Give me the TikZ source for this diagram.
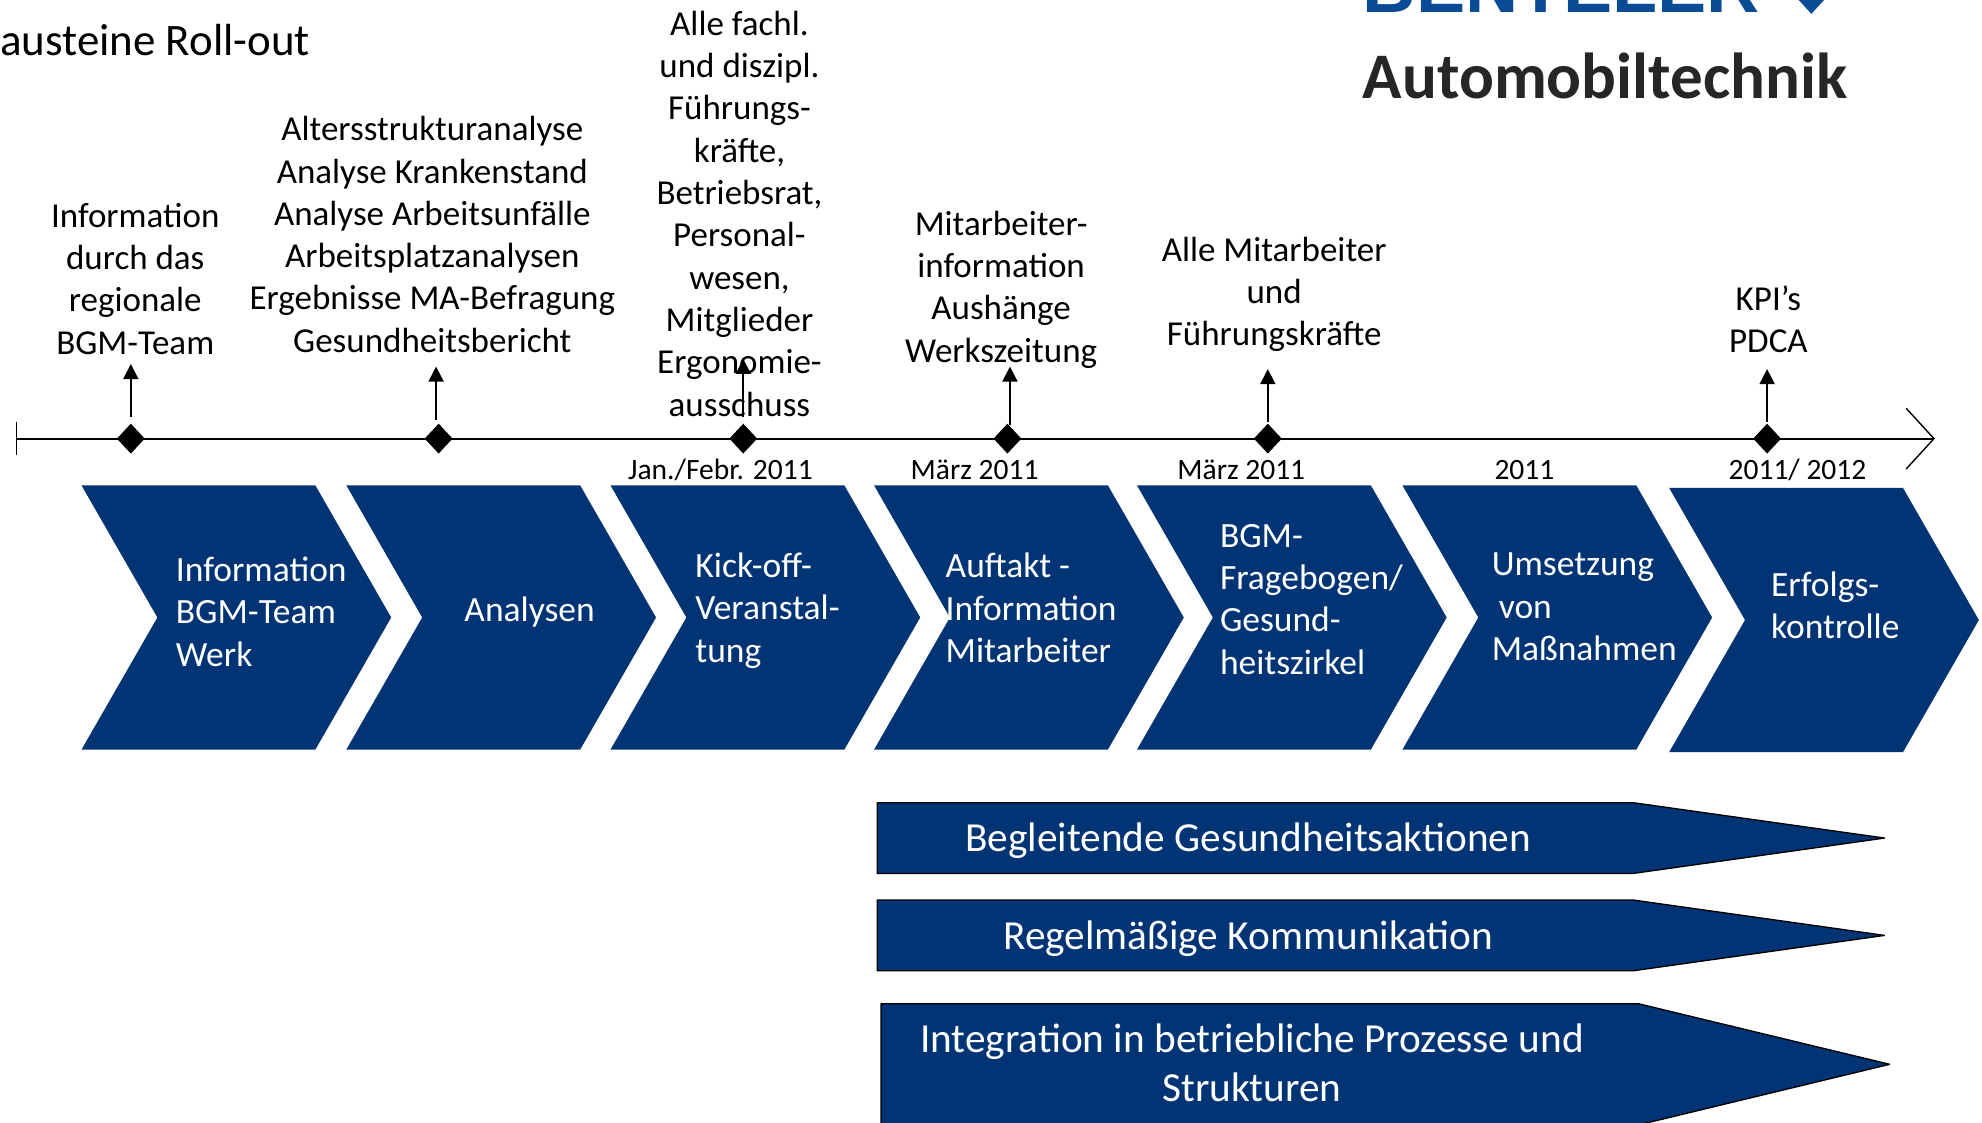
\documentclass[tikz,border=0pt]{standalone}
\usepackage{fontspec}
\setmainfont{Carlito}
\newfontfamily\logofont{Liberation Sans}
\usetikzlibrary{arrows.meta,shapes.geometric}
\definecolor{navy}{RGB}{0,52,117}
\definecolor{logoblue}{RGB}{10,75,150}
\newcommand{\chev}[2]{\fill[navy] (#1,#2) -- ++(185,0) -- ++(60,104.5) -- ++(-60,104.5) -- ++(-185,0) -- ++(60,-104.5) -- cycle;}
\tikzset{
  x=1.264pt,y=-1.264pt,
  lbl/.style={inner sep=0pt,align=center,text=black,font=\fontsize{35}{42.3}\selectfont},
  inbox/.style={inner sep=0pt,align=left,text=white,font=\fontsize{35.5}{42.3}\selectfont},
  barlbl/.style={inner sep=0pt,align=center,text=white,font=\fontsize{41.3}{49}\selectfont},
  datelbl/.style={inner sep=0pt,text=black,font=\fontsize{29.5}{30}\selectfont},
  mile/.style={diamond,fill=black,minimum width=28pt,minimum height=30pt,inner sep=0pt},
  tickarrow/.style={-{Stealth[inset=0pt,length=15pt,width=15pt]},line width=1.8pt,black},
  axis/.style={line width=2pt,black},
  bar/.style={fill=navy,draw=black,line width=1.3pt,line join=bevel}
}
\begin{document}
\begin{tikzpicture}
\useasboundingbox (0,0) rectangle (1568,888.4);
\clip (0,0) rectangle (1568,888.4);
\fill[white] (0,0) rectangle (1568,888.4);
% title and logo
\node[inner sep=0pt,anchor=west,font=\fontsize{45}{50}\selectfont] (title) at (0,32) {austeine Roll-out};
\node[inner sep=0pt,anchor=base west,text=logoblue,font=\logofont\bfseries\fontsize{70}{70}\selectfont] (logotop) at (1078,10) {\resizebox{397pt}{!}{BENTELER}};
\fill[logoblue] (1423,0) -- (1443,0) -- (1433,11) -- cycle;
\node[inner sep=0pt,anchor=west,text=black!85,font=\bfseries\fontsize{65}{70}\selectfont] (logobottom) at (1078,60) {Automobiltechnik};
% timeline
\coordinate (axstart) at (13,347);
\coordinate (axend) at (1530,347);
\coordinate (tickt) at (13,334);
\coordinate (tickb) at (13,360);
\coordinate (heada) at (1508,323);
\coordinate (headb) at (1508,371);
\draw[axis] (axstart) -- (axend);
\draw[line width=1.4pt] (tickt) -- (tickb);
\draw[line width=1.4pt] (heada) -- (axend) -- (headb);
\node[mile] (m1) at (103.5,347) {};
\node[mile] (m2) at (347,347) {};
\node[mile] (m3) at (588,347) {};
\node[mile] (m4) at (797,347) {};
\node[mile] (m5) at (1003,347) {};
\node[mile] (m6) at (1398,347) {};
\coordinate (a1s) at (103.5,330); \coordinate (a1e) at (103.5,288);
\coordinate (a2s) at (345,332); \coordinate (a2e) at (345,290);
\coordinate (a3s) at (588,330); \coordinate (a3e) at (588,284);
\coordinate (a4s) at (799,336); \coordinate (a4e) at (799,290);
\coordinate (a5s) at (1003,334); \coordinate (a5e) at (1003,292);
\coordinate (a6s) at (1398,334); \coordinate (a6e) at (1398,292);
% labels above
\node[lbl] (t1) at (107,220.5) {Information\\durch das\\regionale\\BGM-Team};
\node[lbl] (t2) at (342,185.5) {Altersstrukturanalyse\\Analyse Krankenstand\\Analyse Arbeitsunfälle\\Arbeitsplatzanalysen\\Ergebnisse MA-Befragung\\Gesundheitsbericht};
\node[lbl] (t3) at (585,169) {Alle fachl.\\und diszipl.\\Führungs-\\kräfte,\\Betriebsrat,\\Personal-\\wesen,\\Mitglieder\\Ergonomie-\\ausschuss};
\node[lbl] (t4) at (792,229) {Mitarbeiter-\\information\\Aushänge\\Werkszeitung};
\node[lbl] (t5) at (1008,233) {Alle Mitarbeiter\\und\\Führungskräfte};
\node[lbl] (t6) at (1399,252.5) {KPI’s\\PDCA};
\draw[tickarrow] (a1s) -- (a1e);
\draw[tickarrow] (a2s) -- (a2e);
\draw[tickarrow] (a3s) -- (a3e);
\draw[tickarrow] (a4s) -- (a4e);
\draw[tickarrow] (a5s) -- (a5e);
\draw[tickarrow] (a6s) -- (a6e);
% dates
\node[datelbl] (d1) at (570,372) {Jan./Febr. 2011};
\node[datelbl] (d2) at (771,372) {März 2011};
\node[datelbl] (d3) at (982,372) {März 2011};
\node[datelbl] (d4) at (1206,372) {2011};
\node[datelbl] (d5) at (1422,372) {2011/ 2012};
% chevrons
\chev{64.5}{384}
\chev{274}{384}
\chev{483}{384}
\chev{691.5}{384}
\chev{899.5}{384}
\chev{1109.5}{384}
\chev{1320.5}{386}
\node[inbox,anchor=west] (c1) at (139,484) {Information\\BGM-Team\\Werk};
\node[inbox,anchor=center] (c2) at (419,484.5) {Analysen};
\node[inbox,anchor=west] (c3) at (550,483) {Kick-off-\\Veranstal-\\tung};
\node[inbox,anchor=west] (c4) at (748,481) {Auftakt -\\Information\\Mitarbeiter};
\node[inbox,anchor=west] (c5) at (965,474) {BGM-\\Fragebogen/\\Gesund-\\heitszirkel};
\node[inbox,anchor=west] (c6) at (1180,480) {Umsetzung\\\hspace*{7pt}von\\Maßnahmen};
\node[inbox,anchor=west] (c7) at (1401,479) {Erfolgs-\\kontrolle};
% lower bars
\draw[bar] (694,635) -- (1292,635) -- (1491,663) -- (1292,691) -- (694,691) -- cycle;
\draw[bar] (694,712) -- (1292,712) -- (1491,740) -- (1292,768) -- (694,768) -- cycle;
\draw[bar] (697,794) -- (1296,794) -- (1495,842) -- (1296,890) -- (697,890) -- cycle;
\node[barlbl] (b1) at (987.5,665) {Begleitende Gesundheitsaktionen};
\node[barlbl] (b2) at (987.5,743) {Regelmäßige Kommunikation};
\node[barlbl] (b3) at (990.5,841) {Integration in betriebliche Prozesse und\\Strukturen};
\end{tikzpicture}
\end{document}
